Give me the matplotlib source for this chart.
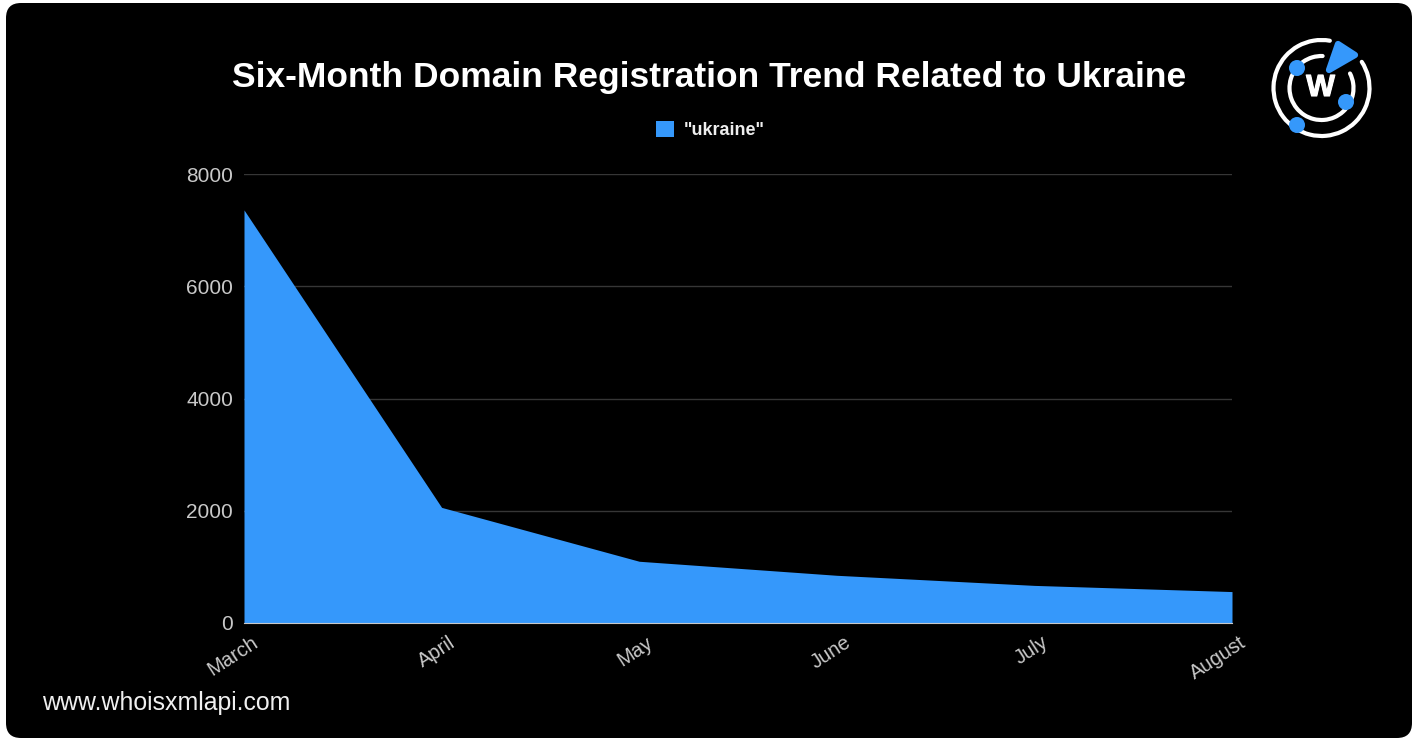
import matplotlib
matplotlib.use("Agg")
import matplotlib.pyplot as plt
import matplotlib.patheffects as pe
from matplotlib.patches import Arc, Circle, FancyBboxPatch, Polygon
from matplotlib.transforms import ScaledTranslation

W, H = 1417, 739
months = ["March", "April", "May", "June", "July", "August"]
counts = [7360, 2060, 1100, 850, 670, 560]
yticks = [0, 2000, 4000, 6000, 8000]
BLUE = "#3598fb"

plt.rcParams["font.family"] = ["Liberation Sans", "DejaVu Sans"]
fig = plt.figure(figsize=(W / 100, H / 100), dpi=100, facecolor="white")

# background layer in pixel coords (y flipped by hand so arcs keep their angles)
bg = fig.add_axes([0, 0, 1, 1], zorder=0)
bg.set_xlim(0, W); bg.set_ylim(0, H); bg.axis("off")
bg.add_patch(FancyBboxPatch((6, H - 738), 1406, 735, boxstyle="round,pad=0,rounding_size=15",
                            fc="black", ec="none"))

# logo
cx, cy = 1321.5, H - 88
bg.add_patch(Arc((cx, cy), 96, 96, theta1=80, theta2=393, color="white", lw=3, capstyle="round"))
bg.add_patch(Arc((cx, cy), 64, 64, theta1=88, theta2=387, color="white", lw=3, capstyle="round"))
bg.add_patch(Polygon([(1338, H - 44), (1355, H - 55), (1329, H - 70)], closed=True,
                     fc=BLUE, ec=BLUE, lw=4.5, joinstyle="round"))
for px, py in [(1297, 68), (1346, 102), (1297, 125)]:
    bg.add_patch(Circle((px, H - py), 8, fc=BLUE, ec="none", zorder=3))
logo_w = bg.text(cx - 1, cy, "W", color="white", fontsize=22, fontweight="bold", ha="center", va="center")
logo_w.set_path_effects([pe.withStroke(linewidth=0.8, foreground="white")])

bg.text(709, H - 78, "Six-Month Domain Registration Trend Related to Ukraine", color="white",
        fontsize=25.5, fontweight="bold", ha="center", va="center")
bg.text(42, H - 703, "www.whoisxmlapi.com", color="#f0f0f0", fontsize=17.9, ha="left", va="center")

ax = fig.add_axes([244 / W, 1 - 623 / H, 988 / W, 449 / H], zorder=1)
ax.patch.set_alpha(0)
x = range(len(months))
ax.fill_between(x, counts, 0, color=BLUE, lw=0, label='"ukraine"', zorder=2)
ax.set_xlim(0, 5); ax.set_ylim(0, 8000)
ax.set_yticks(yticks)
ax.set_xticks(list(x))
ax.set_xticklabels(months, rotation=33, ha="right", rotation_mode="anchor")
ax.grid(axis="y", color="#363636", lw=1, zorder=1)
ax.tick_params(length=0, colors="#c9c9c9", labelsize=14.5)
ax.tick_params(axis="y", pad=8, labelsize=15)
shift = ScaledTranslation(0.07, -0.05, fig.dpi_scale_trans)
for lab in ax.get_xticklabels():
    lab.set_transform(lab.get_transform() + shift)
for name in ["top", "left", "right"]:
    ax.spines[name].set_visible(False)
ax.spines["bottom"].set_color("#c9c9c9")
ax.spines["bottom"].set_linewidth(0.8)

fig.legend(loc="center", bbox_to_anchor=(710 / W, 1 - 130 / H), frameon=False, handlelength=1,
           handleheight=1, handletextpad=0.55, labelcolor="#eeeeee",
           prop={"size": 13, "weight": "bold"})

fig.savefig("out.png", dpi=100, facecolor="white")
